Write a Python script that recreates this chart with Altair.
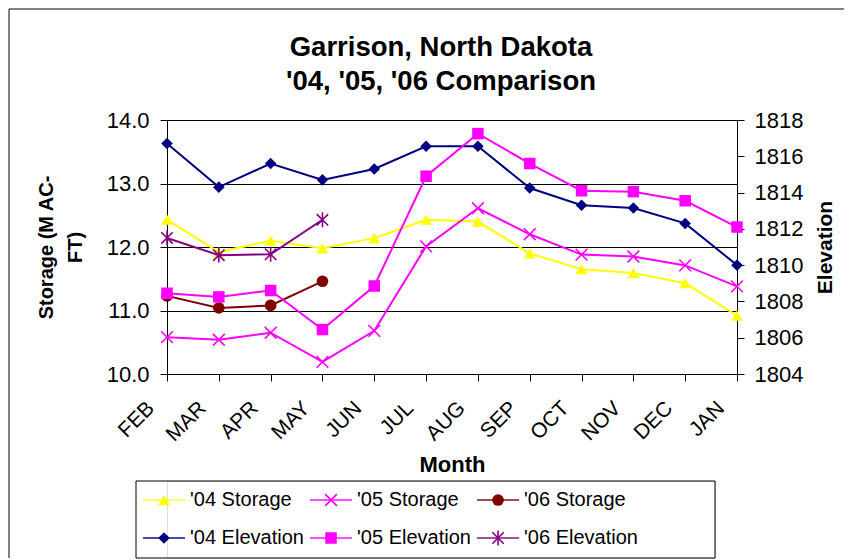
import altair as alt
import pandas as pd

# ---------------- data ----------------
months = ["FEB", "MAR", "APR", "MAY", "JUN", "JUL", "AUG", "SEP", "OCT", "NOV", "DEC", "JAN"]

storage_04 = [12.43, 11.92, 12.10, 11.98, 12.14, 12.43, 12.40, 11.90, 11.65, 11.59, 11.43, 10.92]
storage_05 = [10.58, 10.54, 10.65, 10.19, 10.68, 12.01, 12.61, 12.20, 11.88, 11.85, 11.71, 11.38]
storage_06 = [11.23, 11.04, 11.08, 11.46]

elev_04 = [1816.7, 1814.3, 1815.6, 1814.7, 1815.3, 1816.55, 1816.55, 1814.25, 1813.3, 1813.15, 1812.3, 1810.0]
elev_05 = [1808.45, 1808.25, 1808.6, 1806.45, 1808.85, 1814.9, 1817.25, 1815.6, 1814.1, 1814.05, 1813.55, 1812.1]
elev_06 = [1811.5, 1810.55, 1810.6, 1812.5]

series_names = ["'04 Storage", "'05 Storage", "'06 Storage",
                "'04 Elevation", "'05 Elevation", "'06 Elevation"]
series_colors = ["#FFFF00", "#FF00FF", "#800000", "#000080", "#FF00FF", "#800080"]
X_PATH = "M-1,-1L1,1M-1,1L1,-1"
STAR_PATH = "M-1,-1L1,1M-1,1L1,-1M0,-1.3L0,1.3"
series_shapes = ["triangle-up", X_PATH, "circle", "diamond", "square", STAR_PATH]
series_sizes = [140, 130, 75, 120, 100, 130]
open_series = ["'05 Storage", "'06 Elevation"]
legend_col = [0, 1, 2, 0, 1, 2]
legend_row = [0, 0, 0, 1, 1, 1]

FONT = "Liberation Sans"


def to_long(names, values_list):
    rows = []
    for n, vals in zip(names, values_list):
        for m, v in zip(months, vals):
            rows.append({"month": m, "value": v, "series": n})
    return pd.DataFrame(rows)


storage_df = to_long(series_names[:3], [storage_04, storage_05, storage_06])
elev_df = to_long(series_names[3:], [elev_04, elev_05, elev_06])
legend_df = pd.DataFrame({"series": series_names, "col": legend_col, "row": legend_row})

color = alt.Color("series:N", scale=alt.Scale(domain=series_names, range=series_colors), legend=None)
shape = alt.Shape("series:N", scale=alt.Scale(domain=series_names, range=series_shapes), legend=None)
size = alt.Size("series:O", scale=alt.Scale(domain=series_names, range=series_sizes), legend=None)

x_enc = alt.X(
    "month:N", sort=months, scale=alt.Scale(type="point", padding=0),
    axis=alt.Axis(title="Month", labelAngle=-45, labelAlign="right", labelBaseline="alphabetic",
                  labelPadding=28, labelOffset=-12, tickSize=7, labelFontSize=21, titleFontSize=22,
                  titlePadding=10, grid=False, domainColor="black", tickColor="black",
                  labelColor="black", titleColor="black", labelFont=FONT, titleFont=FONT),
)

left_y = alt.Y(
    "value:Q", scale=alt.Scale(domain=[10, 14], zero=False),
    axis=alt.Axis(title=["Storage (M AC-", "FT)"], values=[10, 11, 12, 13, 14], format=".1f",
                  grid=True, gridColor="black", gridWidth=1, tickSize=7, labelPadding=11,
                  labelFontSize=22, titleFontSize=20, titleLineHeight=29, titlePadding=21,
                  domainColor="black", tickColor="black", labelColor="black", titleColor="black",
                  labelFont=FONT, titleFont=FONT),
)
right_y = alt.Y(
    "value:Q", scale=alt.Scale(domain=[1804, 1818], zero=False),
    axis=alt.Axis(orient="right", title="Elevation", values=list(range(1804, 1819, 2)), format="d",
                  grid=False, tickSize=7, labelPadding=10, labelFontSize=22, titleFontSize=21,
                  titleAngle=-90, titleBaseline="top", titlePadding=12,
                  domainColor="black", tickColor="black", labelColor="black", titleColor="black",
                  labelFont=FONT, titleFont=FONT),
)


def series_layers(y_enc):
    line = alt.Chart().mark_line(strokeWidth=2).encode(x=x_enc, y=y_enc, color=color)
    filled = alt.Chart().mark_point(filled=True, opacity=1).encode(
        x=x_enc, y=y_enc, color=color, shape=shape, size=size
    ).transform_filter(~alt.FieldOneOfPredicate(field="series", oneOf=open_series))
    opened = alt.Chart().mark_point(filled=False, opacity=1, strokeWidth=1.6).encode(
        x=x_enc, y=y_enc, color=color, shape=shape, size=size
    ).transform_filter(alt.FieldOneOfPredicate(field="series", oneOf=open_series))
    return [line, filled, opened]


storage_layer = alt.layer(*series_layers(left_y), data=storage_df)
elev_layer = alt.layer(*series_layers(right_y), data=elev_df)

main = alt.layer(storage_layer, elev_layer).resolve_scale(y="independent").properties(
    width=570, height=254,
    title=alt.TitleParams(text=["Garrison, North Dakota", "'04, '05, '06 Comparison"],
                          fontSize=27.5, font=FONT, fontWeight="bold", lineHeight=34,
                          anchor="middle", frame="group", dx=-11, offset=-14,
                          baseline="bottom", color="black"),
)

# ---------------- legend ----------------
lx = alt.X("col:Q", scale=alt.Scale(domain=[0.018, 3.299]), axis=None)
ly = alt.Y("row:Q", scale=alt.Scale(domain=[-0.5, 1.526], reverse=True), axis=None)

leg_base = alt.Chart(legend_df)
leg_lines = leg_base.mark_tick(orient="horizontal", size=42, thickness=2).encode(x=lx, y=ly, color=color)
leg_filled = leg_base.mark_point(filled=True, opacity=1).encode(
    x=lx, y=ly, color=color, shape=shape, size=size
).transform_filter(~alt.FieldOneOfPredicate(field="series", oneOf=open_series))
leg_open = leg_base.mark_point(filled=False, opacity=1, strokeWidth=1.6).encode(
    x=lx, y=ly, color=color, shape=shape, size=size
).transform_filter(alt.FieldOneOfPredicate(field="series", oneOf=open_series))
leg_text = leg_base.mark_text(align="left", baseline="middle", dx=26, fontSize=20, font=FONT,
                              color="black").encode(x=lx, y=ly, text="series:N")
one = leg_base.transform_filter((alt.datum.col == 0) & (alt.datum.row == 0))
leg_box = one.mark_rect(fill="transparent", stroke="black", strokeWidth=1).encode(
    x=alt.value(-31), x2=alt.value(548), y=alt.value(0), y2=alt.value(77))
frame_left = one.mark_rule(color="black", strokeWidth=1).encode(
    x=alt.value(-158), y=alt.value(-472), y2=alt.value(77))
frame_top = one.mark_rule(color="black", strokeWidth=1).encode(
    x=alt.value(-158), x2=alt.value(677), y=alt.value(-472))

legend = alt.layer(leg_box, leg_lines, leg_filled, leg_open, leg_text, frame_left, frame_top).properties(
    width=548, height=77
)

chart = alt.vconcat(main, legend, spacing=107, bounds="flush").properties(
    padding={"left": 0, "top": 0, "right": 0, "bottom": 0}
).configure_view(stroke=None).configure(font=FONT, background="white")

chart.save("out.html", embed_options={"renderer": "svg", "actions": False})
